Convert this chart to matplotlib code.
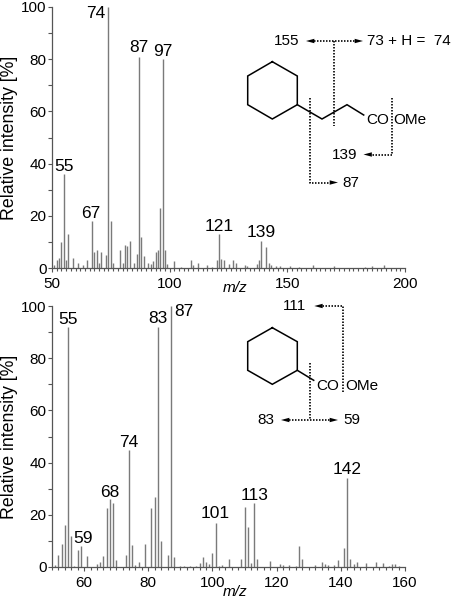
import matplotlib
matplotlib.use('Agg')
import matplotlib.pyplot as plt
from matplotlib.ticker import MultipleLocator

plt.rcParams['font.family'] = ['Liberation Sans', 'DejaVu Sans']

# Upper spectrum
top_mz = [51, 52, 53, 54, 55, 56, 57, 59, 61, 63, 65, 67, 68, 69, 70, 71, 73, 74, 75, 76,
          79, 80, 81, 82, 83, 85, 86, 87, 88, 89, 91, 92, 93, 94, 95, 96, 97, 98, 99, 102,
          105, 109, 110, 112, 116, 118, 120, 121, 122, 123, 125, 127, 128, 132, 133, 137, 138,
          139, 141, 142, 143, 145, 147, 151, 155, 161, 170, 183, 186, 191]
top_int = [1, 3, 4, 10, 36, 3, 13, 4, 2, 1, 3, 18, 6, 7, 2, 6, 5, 100, 18, 2,
           7, 2, 9, 8.5, 10.5, 2, 5.5, 81, 12, 4.5, 2, 1.5, 2.5, 6, 7, 23, 80, 7, 1.5, 2.5,
           0.5, 3.2, 1, 1.8, 1, 0.5, 3, 13, 3.5, 3, 1.5, 3, 2, 1.3, 0.7, 1.5, 3,
           10.5, 8, 2, 1.2, 0.8, 0.6, 0.8, 0.5, 1.3, 0.6, 0.5, 0.6, 1]
top_ticks = [50, 100, 150, 200]
top_labels = [(74, '74', -13, -7), (87, '87', 0, 9), (97, '97', 0, 8), (55, '55', 0, 8),
              (67, '67', -1, 8), (121, '121', 0, 8), (139, '139', 0, 8)]

# Lower spectrum
bot_mz = [51, 52, 53, 54, 55, 56, 57, 58, 59, 61, 64, 65, 66, 67, 68, 69, 70, 73, 74, 75, 76,
          77, 79, 81, 82, 83, 84, 86, 87, 88, 90, 91, 93, 95, 96, 97, 98, 99, 100, 101, 102,
          103, 105, 109, 110, 111, 112, 113, 114, 118, 121, 122, 124, 126, 127, 128, 132,
          134, 135, 136, 138, 139, 141, 142, 143, 144, 145, 148, 151, 153, 155, 156, 157, 158]
bot_int = [0.8, 4.5, 9, 16, 92, 12, 0.5, 6.5, 8, 4.2, 1, 2, 4.4, 22.5, 26, 24.5, 2.5, 4.5, 45, 8.5, 0.6,
           2, 9, 22.5, 27, 92, 10, 4.5, 100, 4, 0.5, 0.5, 0.4, 0.5, 1.5, 4, 1.8, 1, 5.5, 17, 0.5,
           0.7, 3, 3.2, 23, 15.5, 1.5, 24.5, 3, 2.3, 1, 0.8, 0.6, 0.4, 8, 3, 0.6,
           1.8, 1, 0.8, 0.6, 2.5, 7.3, 34, 3, 1, 2, 1.5, 2, 1.5, 0.5, 1, 1, 0.5]
bot_ticks = [60, 80, 100, 120, 140, 160]
bot_labels = [(55, '55', 0, 7), (83, '83', 0, 8), (87, '87', 13, -6), (74, '74', 0, 7),
              (68, '68', 0, 7), (59, '59', 2, 8), (101, '101', 0, 9), (113, '113', 0, 8),
              (142, '142', 0, 9)]

W, H = 454, 599
GRAY = '#7a7a7a'
AXC = '#555555'


def draw_spectrum(ax, mz, inten, labels, xlim, xticks, xminor, xlab_y):
    ax.vlines(mz, 0, inten, color=GRAY, lw=1.0)
    ax.set_xlim(*xlim)
    ax.set_ylim(0, 100)
    ax.set_xticks(xticks)
    ax.xaxis.set_minor_locator(MultipleLocator(xminor))
    ax.yaxis.set_major_locator(MultipleLocator(20))
    ax.yaxis.set_minor_locator(MultipleLocator(10))
    ax.tick_params(axis='x', which='major', length=3.2, width=0.8, color=AXC, labelsize=11, pad=3)
    ax.tick_params(axis='x', which='minor', length=2.2, width=0.8, color=AXC)
    ax.tick_params(axis='y', which='both', length=3, width=0.8, color=AXC, labelsize=11, pad=1)
    for s in ['top', 'right']:
        ax.spines[s].set_visible(False)
    for s in ['left', 'bottom']:
        ax.spines[s].set_color(AXC)
        ax.spines[s].set_linewidth(0.9)
    ax.set_ylabel('Relative intensity [%]', fontsize=12.8)
    ax.yaxis.set_label_coords(-0.096, 0.5)
    ax.set_xlabel('m/z', fontsize=11, style='italic')
    ax.xaxis.set_label_coords(0.52, xlab_y)
    peaks = dict(zip(mz, inten))
    for m, txt, dx, dy in labels:
        ax.annotate(txt, (m, peaks[m]), xytext=(dx, dy), textcoords='offset pixels',
                    ha='center', va='center', fontsize=12.5, annotation_clip=False)


fig = plt.figure(figsize=(W / 100, H / 100), dpi=100)
ax1 = fig.add_axes([52 / W, 1 - 268 / H, 353 / W, 261 / H])
ax2 = fig.add_axes([52 / W, 1 - 567 / H, 353 / W, 261 / H])
draw_spectrum(ax1, top_mz, top_int, top_labels, (50, 200), top_ticks, 2, -0.05)
draw_spectrum(ax2, bot_mz, bot_int, bot_labels, (50, 160), bot_ticks, 2, -0.068)

# overlay in pixel coordinates for the structures and fragment schemes
ov = fig.add_axes([0, 0, 1, 1])
ov.set_xlim(0, W)
ov.set_ylim(H, 0)
ov.axis('off')
ov.patch.set_alpha(0)


def solid(pts):
    ov.plot([p[0] for p in pts], [p[1] for p in pts], color='black', lw=1.1, solid_joinstyle='miter')


def dots(pts):
    ov.plot([p[0] for p in pts], [p[1] for p in pts], color='black', lw=1.2, ls=(0, (0.9, 0.9)))


def arrow(x0, x1, y):
    # small filled head pointing from x0 towards x1
    ov.annotate('', xy=(x1, y), xytext=(x0, y),
                arrowprops=dict(arrowstyle='-|>,head_length=0.6,head_width=0.16', color='black',
                                lw=0, shrinkA=0, shrinkB=0))


def label(x, y, s, ha='center'):
    ov.text(x, y, s, ha=ha, va='center', fontsize=11)


# top structure
solid([(272.3, 61.7), (297.3, 76), (297.3, 104.7), (272.3, 119), (247.7, 104.7), (247.7, 76), (272.3, 61.7)])
solid([(297.3, 104.7), (322, 119), (347, 104.7), (363.7, 115)])
label(366, 120, 'CO', ha='left')
label(393.5, 120, 'OMe', ha='left')
dots([(334, 41), (334, 126)])
dots([(311, 41), (358, 41)])
arrow(316, 306, 41)
arrow(353, 363, 41)
dots([(309.7, 98), (309.7, 182.5), (331, 182.5)])
arrow(328, 338, 182.5)
dots([(391.7, 98), (391.7, 154.5), (368, 154.5)])
arrow(373, 363.5, 154.5)
label(286.5, 41, '155')
label(367, 41, '73 + H =  74', ha='left')
label(344.5, 155, '139')
label(342.7, 183, '87', ha='left')

# bottom structure
solid([(272.3, 327.7), (297.3, 341.7), (297.3, 370.3), (272.3, 384.3), (247.7, 370.3), (247.7, 341.7), (272.3, 327.7)])
solid([(297.3, 370.3), (313.7, 380.3)])
label(316.5, 386, 'CO', ha='left')
label(345, 386, 'OMe', ha='left')
dots([(309.7, 363), (309.7, 420)])
dots([(286, 420), (333, 420)])
arrow(291, 281, 420)
arrow(328, 338, 420)
dots([(343, 391.7), (343, 306), (320, 306)])
arrow(324, 314.3, 306)
label(295, 306, '111')
label(266.3, 420, '83')
label(343, 420, '59', ha='left')

fig.savefig('out.png', dpi=100)
